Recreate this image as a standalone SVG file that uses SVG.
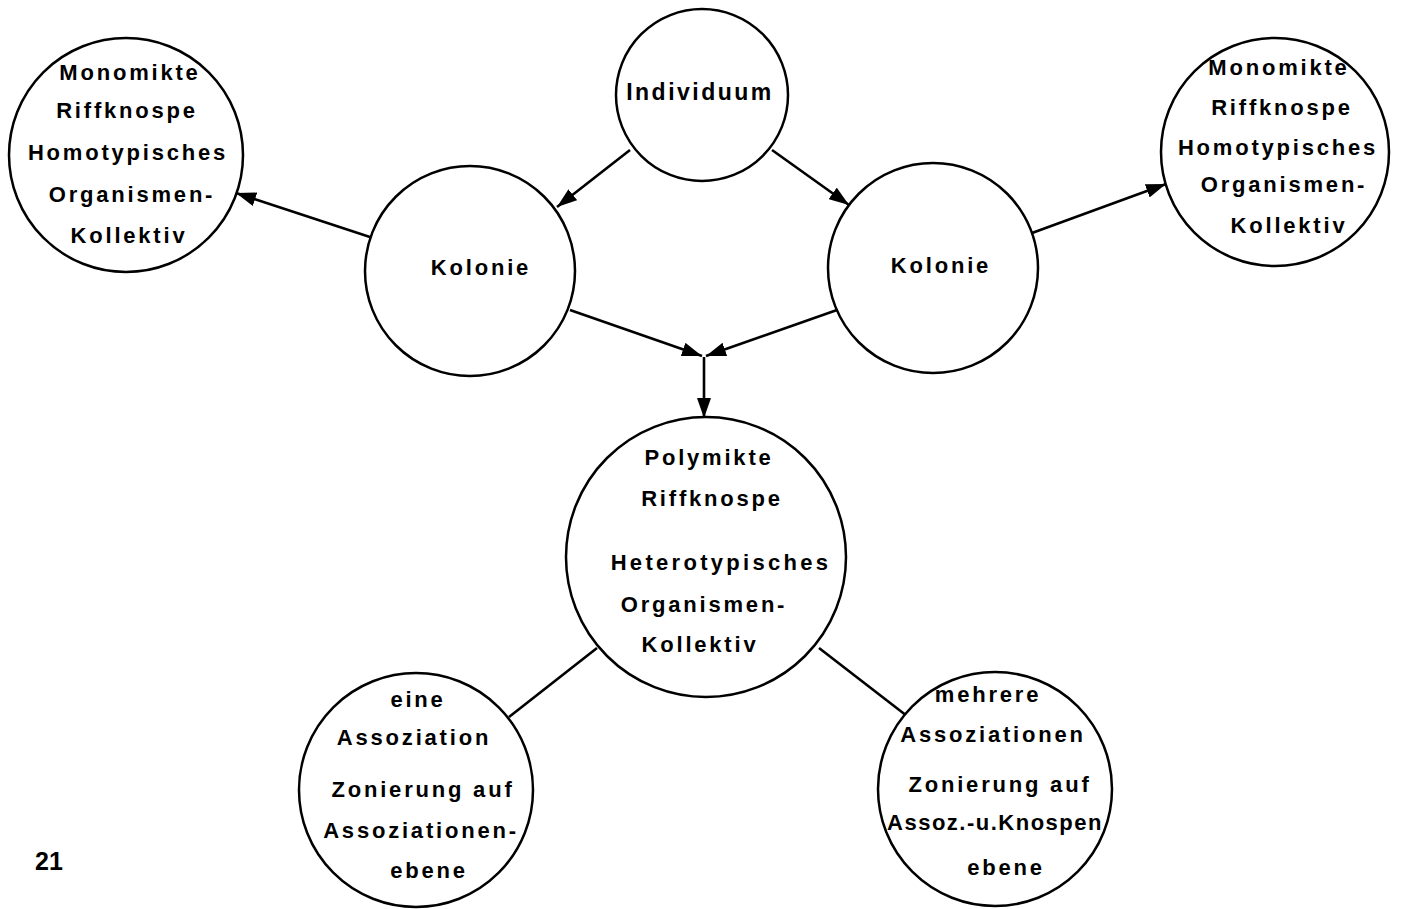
<svg xmlns="http://www.w3.org/2000/svg" width="1404" height="909" viewBox="0 0 1404 909">
<style>
.n{fill:#fff;stroke:#000;stroke-width:2.5}
.t{font-family:"Liberation Sans",Arial,sans-serif;font-weight:bold;font-size:22px;letter-spacing:2.8px;text-anchor:middle;fill:#000}
.c{stroke:#000;stroke-width:2.6;fill:none}
</style>
<defs>
<marker id="ah" viewBox="0 0 20 14" refX="20" refY="7" markerWidth="20" markerHeight="14" markerUnits="userSpaceOnUse" orient="auto">
<path d="M0,0 L20,7 L0,14 z" fill="#000"/>
</marker>
</defs>
<rect width="1404" height="909" fill="#fff"/>
<g id="connectors">
<line class="c" x1="630" y1="150" x2="557" y2="207" marker-end="url(#ah)"/>
<line class="c" x1="772" y1="150" x2="849" y2="205" marker-end="url(#ah)"/>
<line class="c" x1="373" y1="238" x2="236" y2="193" marker-end="url(#ah)"/>
<line class="c" x1="1032" y1="233" x2="1166" y2="184" marker-end="url(#ah)"/>
<line class="c" x1="570" y1="310" x2="702" y2="356" marker-end="url(#ah)"/>
<line class="c" x1="837" y1="310" x2="706" y2="356" marker-end="url(#ah)"/>
<line class="c" x1="704" y1="357" x2="704" y2="418" marker-end="url(#ah)"/>
<line class="c" x1="597" y1="648" x2="509" y2="717"/>
<line class="c" x1="819" y1="648" x2="907" y2="716"/>
</g>
<g id="individuum">
<circle class="n" cx="702" cy="95" r="86"/>
<text class="t" x="700" y="100" style="font-size:23px;letter-spacing:2.5px">Individuum</text>
</g>
<g id="kolonie-links">
<circle class="n" cx="470" cy="271" r="105"/>
<text class="t" x="481" y="275">Kolonie</text>
</g>
<g id="kolonie-rechts">
<circle class="n" cx="933" cy="268" r="105"/>
<text class="t" x="941" y="273">Kolonie</text>
</g>
<g id="monomikte-links">
<circle class="n" cx="126" cy="155" r="117"/>
<text class="t" x="130" y="80">Monomikte</text>
<text class="t" x="127" y="118">Riffknospe</text>
<text class="t" x="128" y="160">Homotypisches</text>
<text class="t" x="132" y="202">Organismen-</text>
<text class="t" x="129" y="243">Kollektiv</text>
</g>
<g id="monomikte-rechts">
<circle class="n" cx="1275" cy="152" r="114"/>
<text class="t" x="1279" y="75">Monomikte</text>
<text class="t" x="1282" y="115">Riffknospe</text>
<text class="t" x="1278" y="155">Homotypisches</text>
<text class="t" x="1284" y="192">Organismen-</text>
<text class="t" x="1289" y="233">Kollektiv</text>
</g>
<g id="polymikte">
<circle class="n" cx="706" cy="557" r="140"/>
<text class="t" x="709" y="465">Polymikte</text>
<text class="t" x="712" y="506">Riffknospe</text>
<text class="t" x="721" y="570" style="letter-spacing:3.3px">Heterotypisches</text>
<text class="t" x="704" y="612">Organismen-</text>
<text class="t" x="700" y="652">Kollektiv</text>
</g>
<g id="eine-assoziation">
<circle class="n" cx="416" cy="790" r="117"/>
<text class="t" x="418" y="707">eine</text>
<text class="t" x="414" y="745">Assoziation</text>
<text class="t" x="423" y="797">Zonierung auf</text>
<text class="t" x="421" y="838">Assoziationen-</text>
<text class="t" x="429" y="878">ebene</text>
</g>
<g id="mehrere-assoziationen">
<circle class="n" cx="995" cy="789" r="117"/>
<text class="t" x="988" y="702">mehrere</text>
<text class="t" x="993" y="742">Assoziationen</text>
<text class="t" x="1000" y="792">Zonierung auf</text>
<text class="t" x="995" y="830" style="letter-spacing:1.5px">Assoz.-u.Knospen</text>
<text class="t" x="1006" y="875">ebene</text>
</g>
<text x="35" y="870" style="font-family:'Liberation Sans',Arial,sans-serif;font-weight:bold;font-size:25px">21</text>
</svg>
